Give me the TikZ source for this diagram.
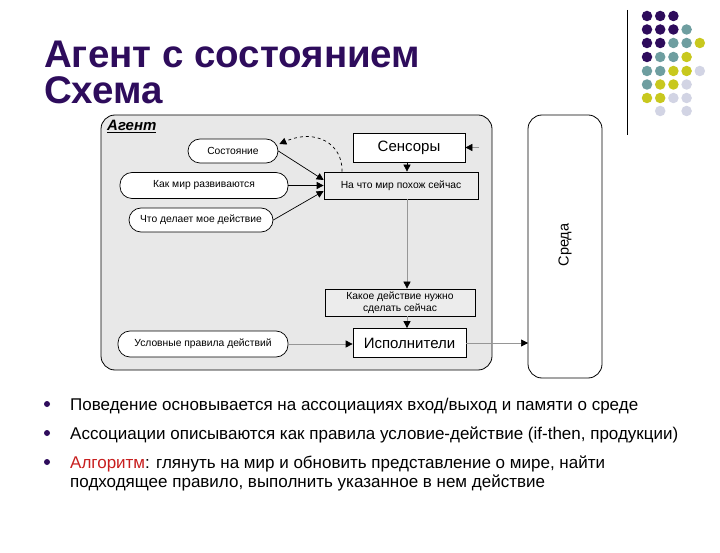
\documentclass[tikz,border=0pt]{standalone}
\usepackage{fontspec}
\setmainfont{Liberation Sans}
\usetikzlibrary{arrows.meta,calc}
\definecolor{titlecol}{RGB}{46,12,92}
\definecolor{dotP}{RGB}{46,12,92}
\definecolor{dotT}{RGB}{110,158,160}
\definecolor{dotY}{RGB}{200,200,30}
\definecolor{dotL}{RGB}{210,212,228}
\definecolor{bggray}{RGB}{232,232,232}
\definecolor{boxgray}{RGB}{236,236,236}
\definecolor{linegray}{RGB}{150,150,150}
\definecolor{algred}{RGB}{200,30,30}
\tikzset{
  pill/.style={draw=black, fill=white, rounded corners=12pt, line width=0.7pt, inner sep=0pt, font=\fontsize{10.3}{12}\selectfont},
  rectgray/.style={draw=black, fill=boxgray, line width=0.7pt, inner sep=0pt, font=\fontsize{10.3}{12}\selectfont, align=center},
  rectwhite/.style={draw=black, fill=white, line width=0.7pt, inner sep=0pt, font=\fontsize{15}{17}\selectfont},
  arr/.style={-{Triangle[length=7pt,width=7pt,color=black]}, line width=0.7pt},
  garr/.style={-{Triangle[length=7pt,width=7pt,color=black]}, line width=0.7pt, draw=linegray},
  bullettext/.style={anchor=base west, inner sep=0pt, font=\fontsize{17}{19}\selectfont},
  dot/.style={circle, inner sep=0pt, minimum size=10.5pt},
}
\begin{document}
\begin{tikzpicture}[x=1pt,y=-1pt]
\useasboundingbox (0,0) rectangle (720,553);
\fill[white] (0,0) rectangle (720,553);
% title
\node[anchor=base west, inner sep=0pt, text=titlecol, font=\fontsize{38.5}{42}\bfseries\selectfont] (t1) at (44,68) {Агент с состоянием};
\node[anchor=base west, inner sep=0pt, text=titlecol, font=\fontsize{38.5}{42}\bfseries\selectfont] (t2) at (44,104) {Схема};
% decorative line
\draw[line width=1pt] (627,10) -- (627,135);
% dots
\foreach \c [count=\i] in {dotP,dotP,dotP} \node[dot, fill=\c] at ({647+13.2*(\i-1)},16) {};
\foreach \c [count=\i] in {dotP,dotP,dotP,dotT} \node[dot, fill=\c] at ({647+13.2*(\i-1)},29.5) {};
\foreach \c [count=\i] in {dotP,dotP,dotT,dotT,dotY} \node[dot, fill=\c] at ({647+13.2*(\i-1)},43) {};
\foreach \c [count=\i] in {dotP,dotT,dotT,dotY} \node[dot, fill=\c] at ({647+13.2*(\i-1)},57) {};
\foreach \c [count=\i] in {dotT,dotT,dotY,dotY,dotL} \node[dot, fill=\c] at ({647+13.2*(\i-1)},71) {};
\foreach \c [count=\i] in {dotT,dotY,dotY,dotL} \node[dot, fill=\c] at ({647+13.2*(\i-1)},84.5) {};
\foreach \c [count=\i] in {dotY,dotY,dotL,dotL} \node[dot, fill=\c] at ({647+13.2*(\i-1)},98) {};
\node[dot, fill=dotL] at (660.2,111) {};
\node[dot, fill=dotL] at (686.6,111) {};
% agent container
\draw[fill=bggray, line width=0.8pt, rounded corners=14pt] (101,115) rectangle (492,370);
\node[anchor=north west, inner sep=0pt, font=\fontsize{15}{17}\bfseries\itshape\selectfont] (agentlbl) at (107,120) {\underline{Агент}};
% environment
\draw[fill=white, line width=0.8pt, rounded corners=14pt] (528,115) rectangle (602,378);
\node[rotate=90, font=\fontsize{14.5}{16}\selectfont] (sreda) at (565,245) {Среда};
% nodes
\node[pill, minimum width=90pt, minimum height=24pt] (sost) at (233,151) {Состояние};
\node[pill, minimum width=168pt, minimum height=26pt] (kak) at (204,185.5) {Как мир развиваются};
\node[pill, minimum width=144pt, minimum height=24pt] (chto) at (201,220) {Что делает мое действие};
\node[rectwhite, minimum width=112pt, minimum height=29pt] (sens) at (409,147.5) {Сенсоры};
\node[rectgray, minimum width=154pt, minimum height=27pt] (nachto) at (401,185.5) {На что мир похож сейчас};
\node[rectgray, minimum width=150pt, minimum height=27pt] (kakoe) at (400,302.5) {Какое действие нужно\\сделать сейчас};
\node[rectwhite, minimum width=113pt, minimum height=29pt] (isp) at (409.5,343) {Исполнители};
\node[pill, minimum width=170pt, minimum height=26pt] (usl) at (203,344) {Условные правила действий};
% connectors
\coordinate (sensin) at (479,147.5);
\coordinate (sostin) at ($(sost.east)+(1,-7)$);
\draw[garr] (sensin) -- (sens.east);
\draw[arr] (sens.south -| 407,0) -- (nachto.north -| 407,0);
\draw[arr] (sost.east) -- ([yshift=5.5pt]nachto.west);
\draw[arr] (kak.east) -- (nachto.west);
\draw[arr] (chto.east) -- ([yshift=-5.5pt]nachto.west);
\draw[arr, dashed] (nachto.north -| 342,0) .. controls (343,144) and (316,128) .. (sostin);
\draw[garr] (nachto.south -| 407,0) -- (kakoe.north -| 407,0);
\draw[garr] (kakoe.south -| 407,0) -- (isp.north -| 407,0);
\draw[garr] (usl.east) -- (usl.east -| isp.west);
\draw[garr] (isp.east) -- (isp.east -| 528,0);
% bullets
\foreach \y in {404,433,462} \fill[dotP] (47,\y) circle (3pt);
\node[bullettext] (b1) at (70,410) {Поведение основывается на ассоциациях вход/выход и памяти о среде};
\node[bullettext] (b2) at (70,439) {Ассоциации описываются как правила условие-действие (if-then, продукции)};
\node[bullettext] (b3) at (70,468) {\textcolor{algred}{Алгоритм}: глянуть на мир и обновить представление о мире, найти};
\node[bullettext] (b4) at (70,487) {подходящее правило, выполнить указанное в нем действие};
\end{tikzpicture}
\end{document}
